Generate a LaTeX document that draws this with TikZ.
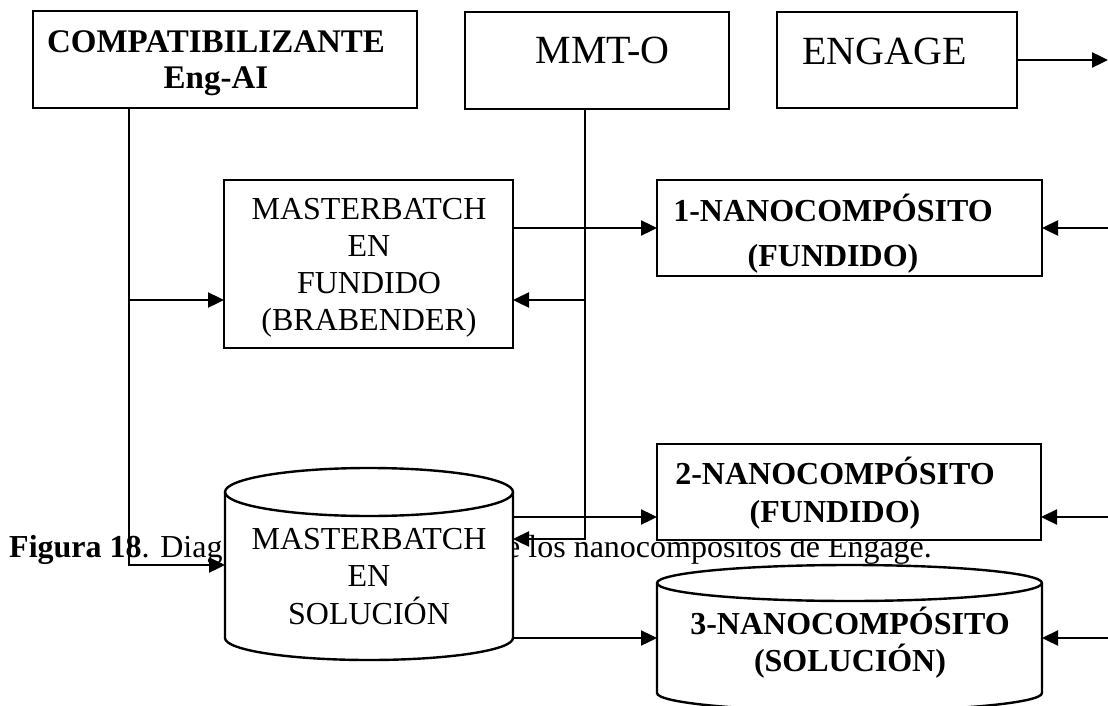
\documentclass[tikz,border=0pt]{standalone}
\usepackage{fontspec}
\setmainfont{Liberation Serif}
\usetikzlibrary{arrows.meta}

\begin{document}
\begin{tikzpicture}[x=1pt, y=-1pt,
    box/.style={draw, line width=2.4pt, fill=white, inner sep=0pt, outer sep=0pt},
    body/.style={inner sep=0pt, outer sep=0pt},
    lbl/.style={inner sep=0pt, align=center},
    reg/.style={font=\fontsize{32}{#1}\selectfont}, reg/.default=37,
    bld/.style={font=\fontsize{32}{#1}\selectfont\bfseries}, bld/.default=37,
    big/.style={font=\fontsize{40}{46}\selectfont},
    ln/.style={line width=2.4pt},
    arr/.style={ln, -{Triangle[length=16pt, width=15pt]}}]

  % page
  \path[use as bounding box, fill=white] (0,0) rectangle (1108,706);

  % caption, partly hidden under the drawing
  \node[lbl, reg, anchor=base west] (cap-a) at (9,557) {\textbf{Figura 18}. Diag};
  \node[lbl, reg, anchor=base west] (cap-b) at (506,557) {e los nanocompositos de Engage.};

  % boxes
  \node[box, minimum width=384pt, minimum height=97pt] (comp) at (225,59.5) {};
  \node[box, minimum width=264pt, minimum height=97pt] (mmt) at (597,60.5) {};
  \node[box, minimum width=240pt, minimum height=96pt] (eng) at (897,60) {};
  \node[box, minimum width=289pt, minimum height=168pt] (mbf) at (368.5,264) {};
  \node[box, minimum width=385pt, minimum height=96pt] (nc1) at (849.5,228) {};
  \node[box, minimum width=384pt, minimum height=96pt] (nc2) at (849,492) {};
  \node[body, minimum width=288pt, minimum height=146pt] (mbs) at (369,565) {};
  \node[body, minimum width=385pt, minimum height=110pt] (nc3) at (849.5,638) {};

  % cylinders
  \path[box] (mbs.north west) -- (mbs.south west)
    arc[start angle=180, end angle=360, x radius=144pt, y radius=22pt]
    -- (mbs.north east) arc[start angle=0, end angle=180, x radius=144pt, y radius=24pt] -- cycle;
  \draw[ln] (mbs.north west) arc[start angle=180, end angle=360, x radius=144pt, y radius=24pt];
  \path[box] (nc3.north west) -- (nc3.south west)
    arc[start angle=180, end angle=360, x radius=192.5pt, y radius=18pt]
    -- (nc3.north east) arc[start angle=0, end angle=180, x radius=192.5pt, y radius=18pt] -- cycle;
  \draw[ln] (nc3.north west) arc[start angle=180, end angle=360, x radius=192.5pt, y radius=18pt];

  % texts
  \node[lbl, bld=36, font=\fontsize{33}{36}\selectfont\bfseries, anchor=south] (comp-t) at (216,95.8) {COMPATIBILIZANTE\\Eng-AI};
  \node[lbl, big, anchor=base] (mmt-t) at (602.5,64) {MMT-O};
  \node[lbl, big, anchor=base] (eng-t) at (884.5,65) {ENGAGE};
  \node[lbl, reg, anchor=south] (mbf-t) at (369,338) {MASTERBATCH\\EN\\FUNDIDO\\(BRABENDER)};
  \node[lbl, bld=45, anchor=south] (nc1-t) at (833,274) {1-NANOCOMPÓSITO\\(FUNDIDO)};
  \node[lbl, bld=38, anchor=south] (nc2-t) at (835,530) {2-NANOCOMPÓSITO\\(FUNDIDO)};
  \node[lbl, reg=37.5, anchor=south] (mbs-t) at (369,625) {MASTERBATCH\\EN\\SOLUCIÓN};
  \node[lbl, bld, anchor=south] (nc3-t) at (850,679) {3-NANOCOMPÓSITO\\(SOLUCIÓN)};

  % junction points
  \coordinate (cx) at (129,0);
  \coordinate (mx) at (585,0);
  \coordinate (rx) at (1108,0);
  \coordinate (mbf-in) at ([yshift=-36pt]mbf.west);
  \coordinate (mbf-in2) at ([yshift=-36pt]mbf.east);
  \coordinate (mbs-in) at ([yshift=26pt]mbs.east);
  \coordinate (nc2-in) at ([yshift=-25pt]nc2.west);
  \coordinate (nc2-in2) at ([yshift=-25pt]nc2.east);

  % compatibilizante
  \draw[arr] (comp.south -| cx) |- (mbs.west);
  \draw[arr] (cx |- mbf-in) -- (mbf-in);

  % MMT-O
  \draw[arr] (mmt.south -| mx) |- (mbs-in);
  \draw[arr] (mx |- mbf-in2) -- (mbf-in2);

  % masterbatches to nanocomposites
  \draw[arr] (mbf.east |- nc1.west) -- (nc1.west);
  \draw[arr] (mbs.east |- nc2-in) -- (nc2-in);
  \draw[arr] (mbs.east |- nc3.west) -- (nc3.west);

  % Engage
  \draw[arr] (eng.east) -- (eng.east -| rx);
  \draw[arr] (nc1.east -| rx) -- (nc1.east);
  \draw[arr] (nc2-in2 -| rx) -- (nc2-in2);
  \draw[arr] (nc3.east -| rx) -- (nc3.east);

\end{tikzpicture}
\end{document}
